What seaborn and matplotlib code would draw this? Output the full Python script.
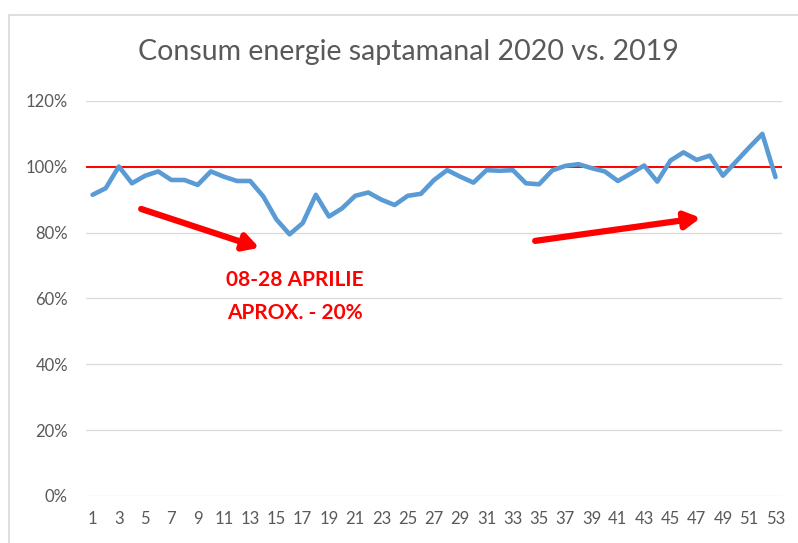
import numpy as np
import pandas as pd
import matplotlib
matplotlib.use("Agg")
import matplotlib.pyplot as plt
from matplotlib.patches import Rectangle
import seaborn as sns

# Weekly consumption 2020 as share of 2019
weeks = list(range(1, 54))
ratio = [91.5, 93.5, 100.1, 95.0, 97.3, 98.6, 96.0, 96.0, 94.5, 98.6,
         97.0, 95.7, 95.7, 91.0, 84.0, 79.5, 82.9, 91.5, 84.9, 87.4,
         91.2, 92.2, 90.0, 88.4, 91.2, 91.8, 96.0, 99.0, 97.0, 95.2,
         99.0, 98.8, 99.0, 95.0, 94.7, 98.9, 100.3, 100.8, 99.6, 98.6,
         95.7, 98.0, 100.4, 95.5, 101.9, 104.4, 102.1, 103.4, 97.3, 101.6,
         105.9, 110.0, 96.9]
reference_level = 100
y_ticks = [0, 20, 40, 60, 80, 100, 120]
x_ticks = list(range(1, 54, 2))
title = "Consum energie saptamanal 2020 vs. 2019"
note_lines = ["08-28 APRILIE", "APROX. - 20%"]

df = pd.DataFrame({"week": weeks, "ratio": np.array(ratio) / 100})

sns.set_style("white")
plt.rcParams["font.family"] = ["Lato", "DejaVu Sans"]

fig = plt.figure(figsize=(7.98, 5.43), dpi=100)
ax = fig.add_axes([0.1078, 0.0866, 0.8722, 0.7274])

# chart frame
fig.patches.append(Rectangle((8.5 / 798, -0.05), 1.1, 1 - 14.5 / 543 + 0.05,
                             transform=fig.transFigure, fill=False,
                             edgecolor="#D9D9D9", lw=1.2))

for t in y_ticks:
    ax.axhline(t / 100, color="#D9D9D9", lw=0.9, zorder=0)

sns.lineplot(data=df, x="week", y="ratio", ax=ax, color="#5B9BD5", lw=3.3, zorder=3)
ax.axhline(reference_level / 100, color="#FF0000", lw=1.4, zorder=2)

ax.set_xlim(0.5, 53.5)
ax.set_ylim(0, 1.2)
ax.set_yticks([t / 100 for t in y_ticks])
ax.set_yticklabels([f"{t}%" for t in y_ticks])
ax.set_xticks(x_ticks)
ax.set_xticklabels([str(w) for w in x_ticks])
ax.tick_params(axis="y", length=0, pad=13, labelsize=12, labelcolor="#595959")
ax.tick_params(axis="x", length=0, pad=11, labelsize=12, labelcolor="#595959")
ax.set_xlabel("")
ax.set_ylabel("")
for s in ax.spines.values():
    s.set_visible(False)

fig.text(0.512, 1 - 52 / 543, title, ha="center", va="center",
         fontsize=20.5, color="#595959")

arrow = dict(arrowstyle="-|>,head_length=0.9,head_width=0.5", lw=4.5,
             color="#FF0000", shrinkA=0, shrinkB=0)
ax.annotate("", xy=(13.7, 0.754), xytext=(4.7, 0.872), arrowprops=arrow)
ax.annotate("", xy=(47.3, 0.845), xytext=(34.7, 0.775), arrowprops=arrow)

ax.text(16.4, 0.656, note_lines[0], ha="center", va="center", fontsize=15,
        fontweight="bold", color="#FF0000")
ax.text(16.4, 0.556, note_lines[1], ha="center", va="center", fontsize=15,
        fontweight="bold", color="#FF0000")

fig.savefig("out.png", dpi=100)
